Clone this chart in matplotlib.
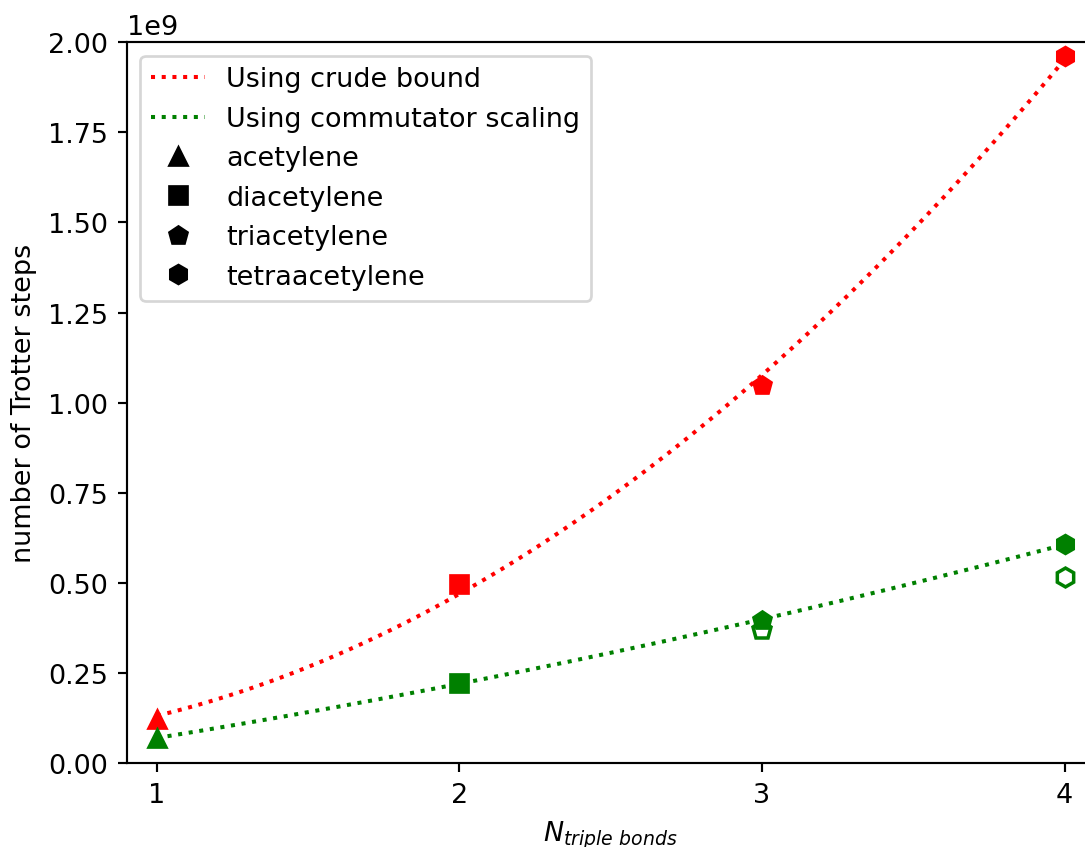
import numpy as np
import matplotlib
matplotlib.use('Agg')
import matplotlib.pyplot as plt
from matplotlib.lines import Line2D

n_bonds = [1, 2, 3, 4]
molecules = ['acetylene', 'diacetylene', 'triacetylene', 'tetraacetylene']
markers = ['^', 's', 'p', 'h']

crude = [0.122e9, 0.497e9, 1.049e9, 1.961e9]
commutator = [0.069e9, 0.222e9, 0.397e9, 0.607e9]
# open markers (only for the two largest molecules)
commutator_open_x = [3, 4]
commutator_open = [0.369e9, 0.516e9]

DPI = 194
fig = plt.figure(figsize=(1085 / DPI, 848 / DPI), dpi=DPI)
ax = fig.add_axes([0.1168, 0.099, 0.8922, 0.850])

xs = np.linspace(1, 4, 200)
fit_crude = np.polyval(np.polyfit(n_bonds, crude, 2), xs)
fit_comm = np.polyval(np.polyfit(n_bonds, commutator, 2), xs)
ax.plot(xs, fit_crude, ':', color='red', lw=1.5)
ax.plot(xs, fit_comm, ':', color='green', lw=1.5)

for i in range(len(n_bonds)):
    ax.plot(n_bonds[i], crude[i], markers[i], color='red', ms=7)
    ax.plot(n_bonds[i], commutator[i], markers[i], color='green', ms=7)

for i in range(len(commutator_open_x)):
    ax.plot(commutator_open_x[i], commutator_open[i], markers[2 + i],
            color='green', mfc='none', ms=7, mew=1.3)

handles = [Line2D([], [], ls=':', color='red', lw=1.5, label='Using crude bound'),
           Line2D([], [], ls=':', color='green', lw=1.5, label='Using commutator scaling')]
for m, name in zip(markers, molecules):
    handles.append(Line2D([], [], ls='none', marker=m, color='black', ms=7, label=name))
ax.legend(handles=handles, loc='upper left')

ax.set_xlim(0.9, 4.1)
ax.set_ylim(0, 2e9)
ax.set_xticks(n_bonds)
ax.set_xlabel(r'$N_{triple\ bonds}$')
ax.set_ylabel('number of Trotter steps')

fig.savefig('out.png', dpi=DPI)
